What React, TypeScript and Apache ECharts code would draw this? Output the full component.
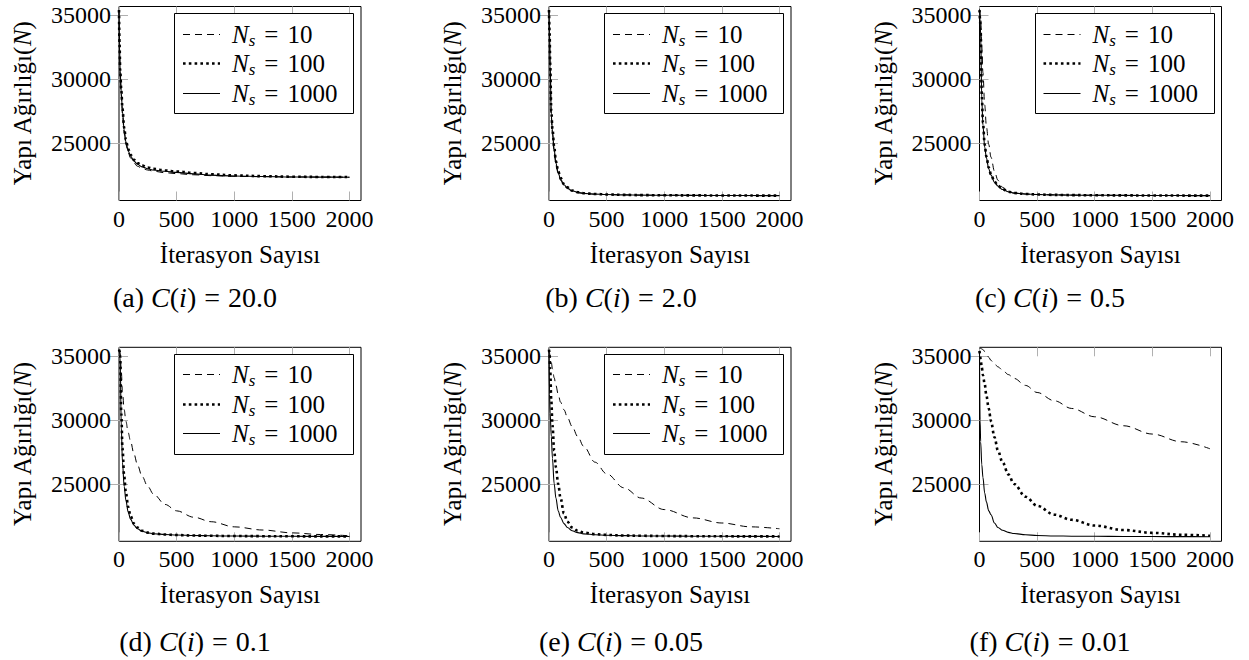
import React, { useEffect, useRef } from "react";
import * as echarts from "echarts";

// ---------- data ----------
const iterations = [0, 5, 10, 20, 30, 45, 60, 80, 100, 130, 160, 200, 250, 300, 400, 500, 650, 800, 1000, 1250, 1500, 1750, 2000];
const xTicks = [0, 500, 1000, 1500, 2000];
const yTicks = [25000, 30000, 35000];
const sampleSizes = ["10", "100", "1000"];
const panelLetters = ["a", "b", "c", "d", "e", "f"];
const cValues = ["20.0", "2.0", "0.5", "0.1", "0.05", "0.01"];

// (a) C(i) = 20.0
const a_ns10 = [35400, 32300, 30400, 28700, 27300, 25800, 24900, 24250, 23850, 23450, 23200, 23030, 22900, 22810, 22690, 22620, 22530, 22460, 22410, 22380, 22360, 22350, 22340];
const a_ns100 = [35400, 32700, 30800, 29100, 27700, 26200, 25250, 24550, 24100, 23700, 23450, 23250, 23100, 22990, 22870, 22790, 22670, 22570, 22480, 22420, 22380, 22360, 22350];
const a_ns1000 = [35400, 32500, 30600, 28900, 27500, 26000, 25100, 24400, 24000, 23600, 23350, 23150, 23000, 22900, 22800, 22720, 22600, 22500, 22430, 22390, 22360, 22350, 22340];
// (b) C(i) = 2.0
const b_ns10 = [35400, 33300, 30800, 27000, 25700, 24300, 23300, 22600, 22100, 21700, 21450, 21250, 21130, 21070, 21010, 20980, 20960, 20940, 20930, 20920, 20910, 20905, 20900];
const b_ns100 = [35400, 33700, 31300, 27500, 26100, 24700, 23600, 22800, 22300, 21800, 21550, 21300, 21170, 21090, 21030, 20990, 20960, 20940, 20930, 20920, 20910, 20905, 20900];
const b_ns1000 = [35400, 33500, 31000, 27200, 25900, 24500, 23450, 22700, 22200, 21750, 21500, 21280, 21150, 21080, 21020, 20990, 20960, 20940, 20930, 20920, 20910, 20905, 20900];
// (c) C(i) = 0.5
const c_ns10 = [35500, 35200, 34800, 32500, 30500, 28000, 26300, 24900, 23900, 22800, 22100, 21550, 21250, 21100, 21020, 20990, 20960, 20940, 20930, 20920, 20910, 20905, 20900];
const c_ns100 = [35400, 34600, 33700, 28700, 26600, 24900, 23950, 23100, 22550, 22000, 21680, 21400, 21210, 21110, 21030, 20990, 20960, 20940, 20930, 20920, 20910, 20905, 20900];
const c_ns1000 = [35400, 34500, 33500, 28400, 26400, 24700, 23850, 23000, 22500, 21950, 21650, 21380, 21200, 21100, 21030, 20990, 20960, 20940, 20930, 20920, 20910, 20905, 20900];
// (d) C(i) = 0.1
const d_ns10 = [35500, 35400, 35200, 33800, 32200, 30800, 29900, 29000, 28350, 27350, 26500, 25600, 24800, 24200, 23400, 22900, 22400, 22050, 21650, 21400, 21180, 21050, 20950];
const d_ns100 = [35500, 35400, 35000, 30500, 27800, 25600, 24300, 23200, 22500, 21900, 21600, 21350, 21200, 21120, 21050, 21010, 20970, 20950, 20930, 20920, 20910, 20905, 20900];
const d_ns1000 = [35500, 35300, 34900, 29400, 26700, 24800, 23700, 22800, 22250, 21780, 21500, 21300, 21180, 21110, 21050, 21010, 20970, 20950, 20930, 20920, 20910, 20905, 20900];
// (e) C(i) = 0.05
const e_ns10 = [35400, 35200, 35000, 34500, 34000, 33300, 32700, 32000, 31400, 30800, 30200, 29500, 28700, 27950, 26700, 25800, 24700, 23900, 23000, 22350, 21950, 21650, 21500];
const e_ns100 = [35500, 35200, 34000, 31500, 29600, 27600, 26300, 25000, 23900, 22700, 22050, 21600, 21350, 21200, 21080, 21020, 20970, 20950, 20930, 20920, 20910, 20905, 20900];
const e_ns1000 = [35300, 32000, 30500, 28700, 27000, 25000, 23900, 22900, 22400, 21900, 21600, 21350, 21200, 21100, 21030, 20990, 20960, 20940, 20930, 20920, 20910, 20905, 20900];
// (f) C(i) = 0.01
const f_ns10 = [35600, 35600, 35600, 35550, 35500, 35350, 35150, 34900, 34650, 34400, 34150, 33900, 33550, 33250, 32700, 32150, 31500, 30900, 30250, 29550, 28900, 28300, 27750];
const f_ns100 = [35400, 35000, 34700, 34100, 33500, 32800, 31900, 30900, 29900, 28650, 27600, 26700, 25750, 25000, 24000, 23300, 22600, 22200, 21750, 21400, 21180, 21030, 20950];
const f_ns1000 = [35300, 30000, 28300, 26500, 25500, 24300, 23600, 22900, 22600, 21950, 21600, 21380, 21220, 21130, 21030, 20970, 20940, 20920, 20910, 20900, 20890, 20885, 20880];

const panelSeries = [
  [a_ns10, a_ns100, a_ns1000],
  [b_ns10, b_ns100, b_ns1000],
  [c_ns10, c_ns100, c_ns1000],
  [d_ns10, d_ns100, d_ns1000],
  [e_ns10, e_ns100, e_ns1000],
  [f_ns10, f_ns100, f_ns1000],
];
const panelHasLegend = [true, true, true, true, true, false];

// ---------- layout / style ----------
const X_MIN = 0;
const X_MAX = 2100;
const Y_MIN = 20520;
const Y_MAX = 35680;
const colLefts = [119, 549, 979.5];
const rowTops = [6.5, 347.3];
const GRID_W = 242;
const GRID_H = 194;
const captionCenters = [195, 621, 1050];
const captionYs = [297, 641];

const SERIF = "Liberation Serif";

const lineStyles = [
  { color: "#000", width: 1, type: [7, 5] as any },
  { color: "#000", width: 2.6, type: [2.6, 3.2] as any },
  { color: "#000", width: 1.1, type: "solid" as any },
];

const plain = (v: number) => String(v);

export default function App() {
  const ref = useRef<HTMLDivElement>(null);

  useEffect(() => {
    if (!ref.current) return;
    const chart = echarts.init(ref.current, undefined, { renderer: "svg" });

    const grids: any[] = [];
    const xAxes: any[] = [];
    const yAxes: any[] = [];
    const series: any[] = [];
    const graphics: any[] = [];

    const tickStyle = { color: "#b0b0b0", width: 1 };

    for (let p = 0; p < 6; p++) {
      const col = p % 3;
      const row = Math.floor(p / 3);
      const L = colLefts[col];
      const T = rowTops[row];
      grids.push({
        left: L,
        top: T,
        width: GRID_W,
        height: GRID_H,
        show: true,
        borderColor: "#000",
        borderWidth: 1,
        backgroundColor: "transparent",
      });
      xAxes.push({
        gridIndex: p,
        type: "value",
        min: X_MIN,
        max: X_MAX,
        position: "bottom",
        axisLine: { show: false },
        axisTick: { show: true, inside: true, length: 9, lineStyle: tickStyle, customValues: xTicks },
        axisLabel: {
          customValues: xTicks,
          formatter: plain,
          fontFamily: SERIF,
          fontSize: 24,
          color: "#000",
          margin: 6,
        },
        splitLine: { show: false },
        name: "İterasyon Sayısı",
        nameLocation: "middle",
        nameGap: 41,
        nameTextStyle: { fontFamily: SERIF, fontSize: 25, color: "#000" },
      });
      xAxes.push({
        gridIndex: p,
        type: "value",
        min: X_MIN,
        max: X_MAX,
        position: "top",
        axisLine: { show: false },
        axisTick: { show: true, inside: true, length: 9, lineStyle: tickStyle, customValues: xTicks },
        axisLabel: { show: false },
        splitLine: { show: false },
      });
      yAxes.push({
        gridIndex: p,
        type: "value",
        min: Y_MIN,
        max: Y_MAX,
        position: "left",
        axisLine: { show: false },
        axisTick: { show: true, inside: true, length: 9, lineStyle: tickStyle, customValues: yTicks },
        axisLabel: {
          customValues: yTicks,
          formatter: plain,
          fontFamily: SERIF,
          fontSize: 24,
          color: "#000",
          margin: 8,
        },
        splitLine: { show: false },
        name: "{r|Yapı Ağırlığı(}{i|N}{r|)}",
        nameLocation: "middle",
        nameRotate: 90,
        nameGap: 84,
        nameTextStyle: {
          rich: {
            r: { fontFamily: SERIF, fontSize: 25, color: "#000" },
            i: { fontFamily: SERIF, fontSize: 25, fontStyle: "italic", color: "#000" },
          },
        },
      });
      yAxes.push({
        gridIndex: p,
        type: "value",
        min: Y_MIN,
        max: Y_MAX,
        position: "right",
        axisLine: { show: false },
        axisTick: { show: true, inside: true, length: 9, lineStyle: tickStyle, customValues: yTicks },
        axisLabel: { show: false },
        splitLine: { show: false },
      });

      const sets = panelSeries[p];
      for (let s = 0; s < 3; s++) {
        const vals = sets[s];
        series.push({
          type: "line",
          name: "Ns" + sampleSizes[s],
          xAxisIndex: p * 2,
          yAxisIndex: p * 2,
          data: iterations.map((x, i) => [x, vals[i]]),
          showSymbol: false,
          symbol: "none",
          smooth: 0.35,
          smoothMonotone: "x",
          lineStyle: lineStyles[s],
          z: 3 + s,
          silent: true,
        });
      }

      if (panelHasLegend[p]) {
        const bx = L + 55;
        const by = T + 6.5;
        graphics.push({
          type: "rect",
          z: 50,
          shape: { x: Math.round(bx) + 0.5, y: Math.round(by) + 0.5, width: 179, height: 100 },
          style: { fill: "#fff", stroke: "#000", lineWidth: 1 },
        });
        const rowOffsets = [27, 56.5, 86];
        for (let s = 0; s < 3; s++) {
          const ly = Math.round(T + rowOffsets[s]) + 0.5;
          const ls = lineStyles[s];
          graphics.push({
            type: "line",
            z: 51,
            shape: { x1: L + 64, y1: ly, x2: L + 101, y2: ly },
            style: {
              stroke: "#000",
              lineWidth: ls.width,
              lineDash: Array.isArray(ls.type) ? ls.type : null,
            },
          });
          graphics.push({
            type: "text",
            z: 51,
            x: L + 113,
            y: ly,
            style: {
              text: "{i|N}{s|s}{e|=}{r|" + sampleSizes[s] + "}",
              verticalAlign: "middle",
              align: "left",
              rich: {
                i: { fontFamily: SERIF, fontSize: 25, fontStyle: "italic", fill: "#000", lineHeight: 28 },
                s: { fontFamily: SERIF, fontSize: 17, fontStyle: "italic", fill: "#000", lineHeight: 17, verticalAlign: "bottom" },
                e: { fontFamily: SERIF, fontSize: 25, fill: "#000", lineHeight: 28, padding: [0, 9, 0, 9] },
                r: { fontFamily: SERIF, fontSize: 25, fill: "#000", lineHeight: 28 },
              },
            },
          });
        }
      }

      graphics.push({
        type: "text",
        z: 51,
        x: captionCenters[col],
        y: captionYs[row],
        style: {
          text:
            "{r|(" + panelLetters[p] + ") }{i|C}{r|(}{i|i}{r|)}{e|=}{r|" + cValues[p] + "}",
          align: "center",
          verticalAlign: "middle",
          rich: {
            r: { fontFamily: SERIF, fontSize: 28, fill: "#000" },
            i: { fontFamily: SERIF, fontSize: 28, fontStyle: "italic", fill: "#000" },
            e: { fontFamily: SERIF, fontSize: 28, fill: "#000", padding: [0, 8, 0, 8] },
          },
        },
      });
    }

    chart.setOption({
      animation: false,
      backgroundColor: "#fff",
      grid: grids,
      xAxis: xAxes,
      yAxis: yAxes,
      series,
      graphic: { elements: graphics },
    });

    return () => {
      chart.dispose();
    };
  }, []);

  return (
    <div
      ref={ref}
      style={{ position: "absolute", left: 0, top: 0, width: 1249, height: 660 }}
    />
  );
}
